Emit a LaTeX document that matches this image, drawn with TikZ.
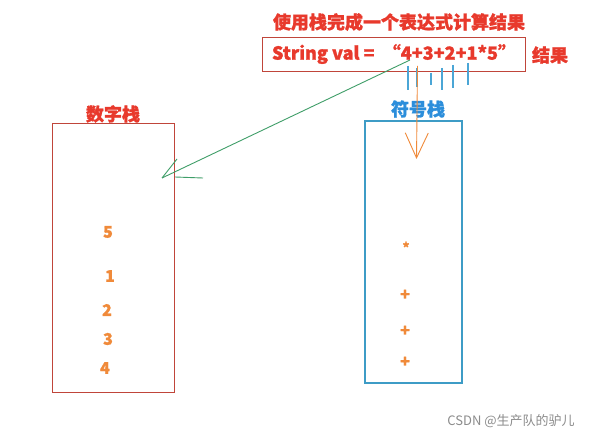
\documentclass[tikz,border=0pt]{standalone}
\usepackage{fontspec}
\setmainfont{Noto Sans CJK SC}[BoldFeatures={FakeBold=1.2}]
\usetikzlibrary{arrows.meta}
\definecolor{tred}{HTML}{E8392C}
\definecolor{bred}{HTML}{C0453A}
\definecolor{bblue}{HTML}{3E9CC6}
\definecolor{tblue}{HTML}{2C8EDB}
\definecolor{torange}{HTML}{F08A3A}
\definecolor{tgreen}{HTML}{3F9E68}
\definecolor{tick}{HTML}{4BA6D6}
\tikzset{
  redtxt/.style={text=tred, font=\fontsize{18bp}{20bp}\selectfont\bfseries, inner sep=0pt},
  bluetxt/.style={text=tblue, font=\fontsize{18bp}{20bp}\selectfont\bfseries, inner sep=0pt},
  num/.style={text=torange, font=\fontsize{16bp}{18bp}\selectfont\bfseries, inner sep=0pt},
  stackred/.style={draw=bred, line width=0.9bp},
  stackblue/.style={draw=bblue, line width=1.1bp},
  ticks/.style={draw=tick, line width=1.2bp},
}
\begin{document}
\begin{tikzpicture}[x=1bp,y=-1bp]
\useasboundingbox (0,0) rectangle (604,437);
\fill[white] (0,0) rectangle (604,437);
% title
\node[redtxt] (title) at (399,22) {使用栈完成一个表达式计算结果};
\node[draw=bred, line width=0.9bp, minimum width=263bp, minimum height=34bp, inner sep=0pt] (box) at (393.5,54) {};
\node[redtxt] (expr) at (394,54) {String val =\ \ “4+3+2+1*5”};
\node[redtxt] (res) at (550,55) {结果};
% blue ticks
\draw[ticks] (408,66) -- (408,90);
\draw[ticks] (417,68) -- (417,87);
\draw[ticks] (431,73) -- (431,85);
\draw[ticks] (442,68) -- (442,90);
\draw[ticks] (453,65) -- (453,88);
\draw[ticks] (468,63) -- (468,85);
% number stack
\node[stackred, minimum width=122bp, minimum height=269bp, inner sep=0pt] (nstack) at (113,257.5) {};
\node[redtxt, text=tred] (nlabel) at (113,114) {数字栈};
\node[num] (n5) at (108,232) {5};
\node[num] (n1) at (110,276) {1};
\node[num] (n2) at (107,310) {2};
\node[num] (n3) at (108,339) {3};
\node[num] (n4) at (105,368) {4};
% symbol stack
\node[stackblue, minimum width=97bp, minimum height=262bp, inner sep=0pt] (sstack) at (413.5,252) {};
\node[bluetxt] (slabel) at (418,109) {符号栈};
\node[num, font=\fontsize{13bp}{15bp}\selectfont\bfseries] (smul) at (406,247) {*};
\node[num] (sp1) at (405,295) {+};
\node[num] (sp2) at (405,331) {+};
\node[num] (sp3) at (405,362) {+};
% orange arrow
\coordinate (ostart) at (417.5,66);
\coordinate (oend) at (416.5,159);
\draw[torange, line width=0.9bp, -{Straight Barb[length=25bp,width=23bp,line width=0.9bp]}] (ostart) -- (oend);
% green arrow
\coordinate (gstart) at (410,60);
\coordinate (gtip) at (162,178);
\coordinate (garm) at (177,159);
\coordinate (gbarA) at (175,177);
\coordinate (gbarB) at (203,178);
\draw[tgreen, line width=0.9bp] (gstart) -- (gtip);
\draw[tgreen, line width=0.9bp] (gtip) -- (garm);
\draw[tgreen, line width=0.9bp] (gbarA) -- (gbarB);
% watermark
\node[text=black!45, font=\fontsize{13bp}{15bp}\selectfont, inner sep=0pt] (wm) at (511,421) {CSDN @生产队的驴儿};
\end{tikzpicture}
\end{document}
